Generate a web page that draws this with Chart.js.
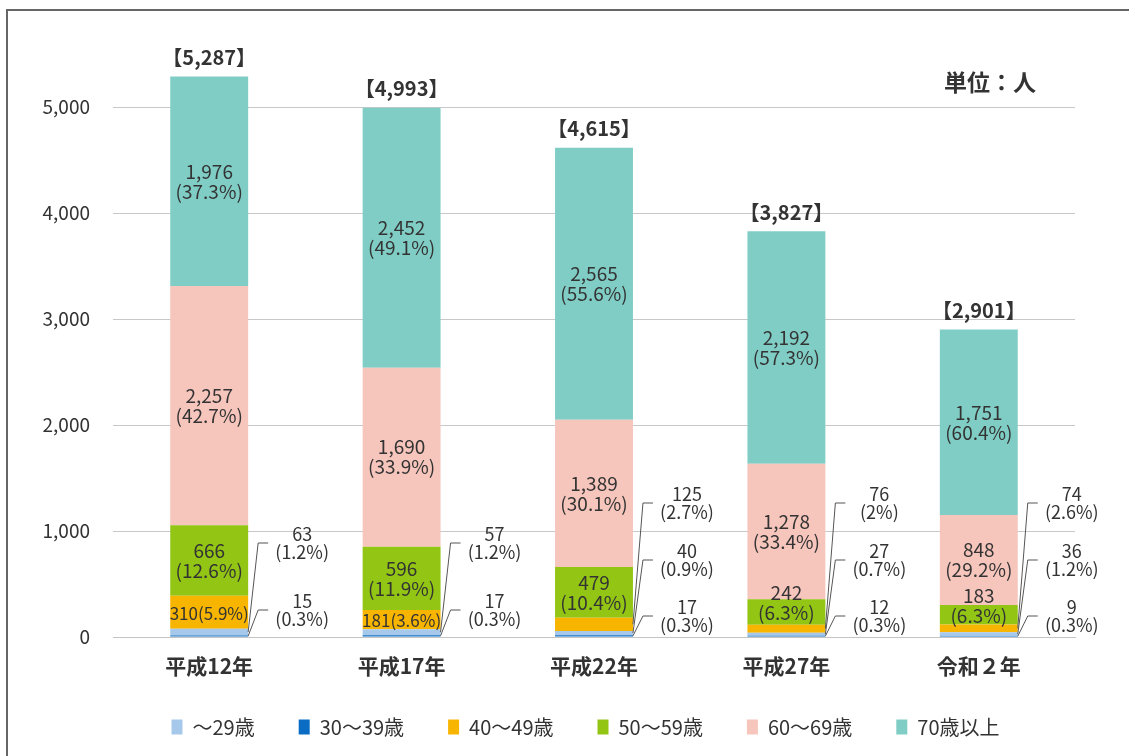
<!DOCTYPE html>
<html lang="ja">
<head>
<meta charset="utf-8">
<title>年齢別 人数の推移</title>
<script src="https://cdn.jsdelivr.net/npm/chart.js@4.4.1/dist/chart.umd.min.js"></script>
<style>
  html, body { margin: 0; padding: 0; background: #fff; }
  #wrap { position: relative; width: 1129px; height: 756px; overflow: hidden; }
  #frame { position: absolute; left: 6px; top: 9px; width: 1200px; height: 800px;
           border-left: 2px solid #666; border-top: 2px solid #666; }
  canvas { position: absolute; left: 0; top: 0; }
</style>
</head>
<body>
<div id="wrap">
  <div id="frame"></div>
  <canvas id="chart" width="1129" height="756"></canvas>
</div>
<script>
// data
const categories = ['平成12年', '平成17年', '平成22年', '平成27年', '令和２年'];
const seriesNames = ['～29歳', '30～39歳', '40～49歳', '50～59歳', '60～69歳', '70歳以上'];

const under29 = [63, 57, 40, 27, 36];
const age30s = [15, 17, 17, 12, 9];
const age40s = [310, 181, 125, 76, 74];
const age50s = [666, 596, 479, 242, 183];
const age60s = [2257, 1690, 1389, 1278, 848];
const over70 = [1976, 2452, 2565, 2192, 1751];

const pctUnder29 = ['1.2%', '1.2%', '0.9%', '0.7%', '1.2%'];
const pct30s = ['0.3%', '0.3%', '0.3%', '0.3%', '0.3%'];
const pct40s = ['5.9%', '3.6%', '2.7%', '2%', '2.6%'];
const pct50s = ['12.6%', '11.9%', '10.4%', '6.3%', '6.3%'];
const pct60s = ['42.7%', '33.9%', '30.1%', '33.4%', '29.2%'];
const pctOver70 = ['37.3%', '49.1%', '55.6%', '57.3%', '60.4%'];

const totals = [5287, 4993, 4615, 3827, 2901];
const yTicks = [0, 1000, 2000, 3000, 4000, 5000];

const values = [under29, age30s, age40s, age50s, age60s, over70];
const pcts = [pctUnder29, pct30s, pct40s, pct50s, pct60s, pctOver70];
const colors = ['#a6c8ea', '#0a6cc2', '#f7b500', '#92c514', '#f6c5bc', '#80cdc5'];

// 30～39歳 sits at the very bottom of each bar, then ～29歳
const stackOrder = [1, 0, 2, 3, 4, 5];

const FONT = "'Noto Sans CJK JP', 'Noto Sans', sans-serif";
const TEXT = '#333333';

const fmt = v => v.toLocaleString('en-US');

const labelPlugin = {
  id: 'segLabels',
  afterLayout(chart) {
    // legend sits a bit right of center and a bit higher in the original
    const lg = chart.legend;
    lg.left += 48; lg.right += 48;
    lg.top -= 9; lg.bottom -= 9;
  },
  afterDatasetsDraw(chart) {
    const ctx = chart.ctx;
    const ds = chart.data.datasets;
    const metaOf = k => chart.getDatasetMeta(ds.findIndex(d => d.seriesIdx === k));
    const base = chart.scales.y.getPixelForValue(0);

    ctx.save();
    ctx.fillStyle = TEXT;
    ctx.textAlign = 'center';
    ctx.textBaseline = 'middle';

    categories.forEach((c, i) => {
      // labels inside the big segments
      [3, 4, 5].forEach(k => {
        const el = metaOf(k).data[i];
        let cy = (el.y + el.base) / 2;
        if (el.base - el.y < 40) cy -= 9;
        ctx.font = '19px ' + FONT;
        ctx.fillText(fmt(values[k][i]), el.x, cy - 10);
        ctx.fillText('(' + pcts[k][i] + ')', el.x, cy + 10);
      });

      const outside = [];
      if (age40s[i] >= 150) {
        const el = metaOf(2).data[i];
        ctx.font = '17px ' + FONT;
        ctx.fillText(fmt(age40s[i]) + '(' + pct40s[i] + ')', el.x, (el.y + el.base) / 2 + 1);
      } else {
        outside.push(2);
      }
      outside.push(0, 1);

      const offsets = outside.length === 3 ? [-134, -77, -21] : [-94, -27];
      outside.forEach((k, j) => {
        const el = metaOf(k).data[i];
        const right = el.x + el.width / 2;
        const by = base + offsets[j];
        const sy = (el.y + el.base) / 2;
        ctx.strokeStyle = '#555';
        ctx.lineWidth = 1;
        ctx.beginPath();
        ctx.moveTo(right, sy);
        ctx.lineTo(right + 10, by);
        ctx.lineTo(right + 20, by);
        ctx.stroke();
        ctx.font = '18px ' + FONT;
        ctx.fillText(fmt(values[k][i]), right + 54, by - 9);
        ctx.fillText('(' + pcts[k][i] + ')', right + 54, by + 9);
      });

      // total above the bar
      const top = metaOf(5).data[i];
      ctx.font = 'bold 20px ' + FONT;
      ctx.fillText('【' + fmt(totals[i]) + '】', top.x, top.y - 19);
    });

    const area = chart.chartArea;
    ctx.font = 'bold 23px ' + FONT;
    ctx.fillText('単位：人', area.right - 85, area.top + 28);
    ctx.restore();
  }
};

const datasets = stackOrder.map(k => ({
  label: seriesNames[k],
  seriesIdx: k,
  data: values[k],
  backgroundColor: colors[k],
  borderWidth: 0,
  barPercentage: 0.81,
  categoryPercentage: 0.5,
  stack: 'all'
}));

new Chart(document.getElementById('chart'), {
  type: 'bar',
  data: { labels: categories, datasets: datasets },
  options: {
    responsive: false,
    animation: false,
    layout: { padding: { top: 54, right: 54, bottom: 0, left: 0 } },
    scales: {
      x: {
        stacked: true,
        grid: { display: false },
        border: { display: true, color: '#c4c4c4' },
        ticks: { padding: 8, color: TEXT, font: { family: FONT, size: 21, weight: 'bold' } },
        afterFit(scale) { scale.height = 45; }
      },
      y: {
        stacked: true,
        min: 0,
        max: 5500,
        afterBuildTicks(scale) { scale.ticks = yTicks.map(v => ({ value: v })); },
        grid: { color: '#c8c8c8', drawTicks: false },
        border: { display: false },
        ticks: { padding: 23, color: TEXT, font: { family: FONT, size: 19 }, callback: v => fmt(v) },
        afterFit(scale) { scale.width = 113; }
      }
    },
    plugins: {
      tooltip: { enabled: false },
      legend: {
        position: 'bottom',
        labels: {
          boxWidth: 11,
          boxHeight: 15,
          padding: 44,
          color: TEXT,
          font: { family: FONT, size: 20 },
          sort: (a, b, data) => data.datasets[a.datasetIndex].seriesIdx - data.datasets[b.datasetIndex].seriesIdx
        }
      }
    }
  },
  plugins: [labelPlugin]
});
</script>
</body>
</html>
